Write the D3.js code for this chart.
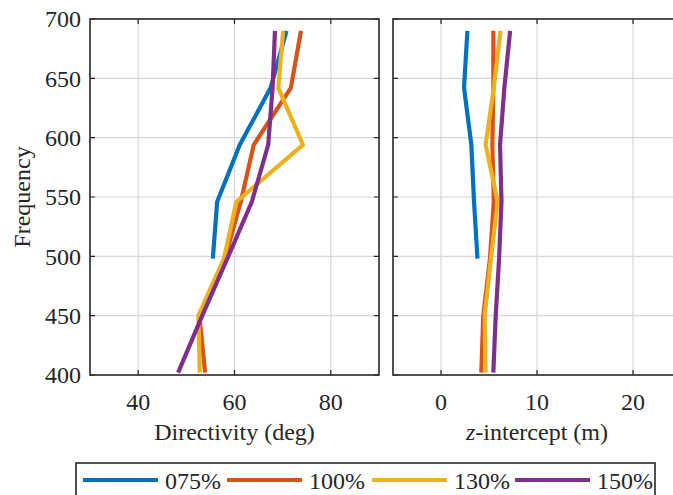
<!DOCTYPE html>
<html>
<head>
<meta charset="utf-8">
<script src="https://cdn.jsdelivr.net/npm/d3@7"></script>
<style>
  html, body { margin: 0; padding: 0; background: #fff; overflow: hidden; }
  svg text { font-family: 'Liberation Serif', 'DejaVu Serif'; fill: #262626; }
</style>
</head>
<body>
<script>
const frequencies = [402, 450, 498, 546, 594, 642, 690];
const seriesNames = ['075%', '100%', '130%', '150%'];
const seriesColors = ['#0072BD', '#D95319', '#EDB120', '#7E2F8E'];

// directivity (deg), one array per series, bottom to top
const directivity075 = [null, null, 55.5, 56.4, 61.1, 67.5, 70.8];
const directivity100 = [53.9, 52.7, 58.0, 61.3, 64.0, 71.7, 73.8];
const directivity130 = [52.8, 52.5, 57.8, 60.4, 74.2, 69.1, 70.1];
const directivity150 = [48.3, 53.3, 58.5, 63.6, 67.0, 67.9, 68.4];

// z-intercept (m)
const zIntercept075 = [null, null, 3.8, 3.44, 3.16, 2.4, 2.75];
const zIntercept100 = [4.2, 4.4, 5.1, 5.5, 5.35, 5.45, 5.45];
const zIntercept130 = [4.65, 4.55, 5.2, 5.9, 4.65, 5.5, 6.2];
const zIntercept150 = [5.45, 5.7, 6.05, 6.3, 6.15, 6.6, 7.2];

const yTicks = [400, 450, 500, 550, 600, 650, 700];
const leftTicks = [40, 60, 80];
const rightTicks = [0, 10, 20];

const directivity = [directivity075, directivity100, directivity130, directivity150];
const zIntercept = [zIntercept075, zIntercept100, zIntercept130, zIntercept150];

const width = 673, height = 495;
const plotTop = 19, plotBottom = 375;
const axisColor = '#262626';
const gridColor = '#d8d8d8';
const serif = "'Liberation Serif', 'DejaVu Serif'";

const svg = d3.select('body').append('svg')
  .attr('width', width)
  .attr('height', height)
  .attr('font-family', serif);

const y = d3.scaleLinear().domain([400, 700]).range([plotBottom, plotTop]);

const drawPanel = (x, ticks, values, label) => {
  const [x0, x1] = x.range();
  const g = svg.append('g');

  // grid
  g.selectAll('.gx').data(ticks).enter().append('line')
    .attr('x1', d => x(d)).attr('x2', d => x(d))
    .attr('y1', plotTop).attr('y2', plotBottom)
    .attr('stroke', gridColor).attr('stroke-width', 1.2);
  g.selectAll('.gy').data(yTicks.slice(1, -1)).enter().append('line')
    .attr('x1', x0).attr('x2', x1)
    .attr('y1', d => y(d)).attr('y2', d => y(d))
    .attr('stroke', gridColor).attr('stroke-width', 1.2);

  // lines
  values.forEach((vals, i) => {
    const line = d3.line()
      .defined(d => d[0] != null)
      .x(d => x(d[0]))
      .y(d => y(d[1]));
    g.append('path')
      .datum(vals.map((v, k) => [v, frequencies[k]]))
      .attr('d', line)
      .attr('fill', 'none')
      .attr('stroke', seriesColors[i])
      .attr('stroke-width', 4.2)
      .attr('stroke-linejoin', 'round');
  });

  // ticks, inward on all four sides
  const tl = 5;
  g.selectAll('.tx').data(ticks).enter().append('path')
    .attr('d', d => `M${x(d)},${plotBottom}v${-tl}M${x(d)},${plotTop}v${tl}`)
    .attr('stroke', axisColor).attr('stroke-width', 1.2);
  g.selectAll('.ty').data(yTicks).enter().append('path')
    .attr('d', d => `M${x0},${y(d)}h${tl}M${x1},${y(d)}h${-tl}`)
    .attr('stroke', axisColor).attr('stroke-width', 1.2);

  // box
  g.append('rect')
    .attr('x', x0).attr('y', plotTop)
    .attr('width', x1 - x0).attr('height', plotBottom - plotTop)
    .attr('fill', 'none')
    .attr('stroke', axisColor).attr('stroke-width', 1.6);

  // tick labels
  g.selectAll('.lx').data(ticks).enter().append('text')
    .attr('x', d => x(d)).attr('y', 410)
    .attr('text-anchor', 'middle')
    .style('font-size', '24px')
    .text(d => d);

  const title = g.append('text')
    .attr('x', (x0 + x1) / 2).attr('y', 440)
    .attr('text-anchor', 'middle')
    .style('font-size', '24px');
  label(title);
  return g;
};

const xLeft = d3.scaleLinear().domain([30, 90]).range([90, 379]);
const xRight = d3.scaleLinear().domain([-5, 25]).range([393, 681]);

drawPanel(xLeft, leftTicks, directivity, t => t.text('Directivity (deg)'));
drawPanel(xRight, rightTicks, zIntercept, t => {
  t.append('tspan').style('font-style', 'italic').text('z');
  t.append('tspan').text('-intercept (m)');
});

// y tick labels on left panel
svg.selectAll('.ly').data(yTicks).enter().append('text')
  .attr('x', 81).attr('y', d => y(d))
  .attr('dy', '0.35em')
  .attr('text-anchor', 'end')
  .style('font-size', '24px')
  .text(d => d);

svg.append('text')
  .attr('transform', `translate(30,${(plotTop + plotBottom) / 2}) rotate(-90)`)
  .attr('text-anchor', 'middle')
  .style('font-size', '24px')
  .text('Frequency');

// legend
const legend = svg.append('g');
legend.append('rect')
  .attr('x', 76).attr('y', 463)
  .attr('width', 579).attr('height', 45)
  .attr('fill', '#fff')
  .attr('stroke', axisColor).attr('stroke-width', 1.6);

const legendX = [83, 227, 372, 515];
seriesNames.forEach((name, i) => {
  legend.append('line')
    .attr('x1', legendX[i]).attr('x2', legendX[i] + 75)
    .attr('y1', 480).attr('y2', 480)
    .attr('stroke', seriesColors[i]).attr('stroke-width', 4);
  legend.append('text')
    .attr('x', legendX[i] + 82).attr('y', 489)
    .style('font-size', '24px')
    .text(name);
});
</script>
</body>
</html>
